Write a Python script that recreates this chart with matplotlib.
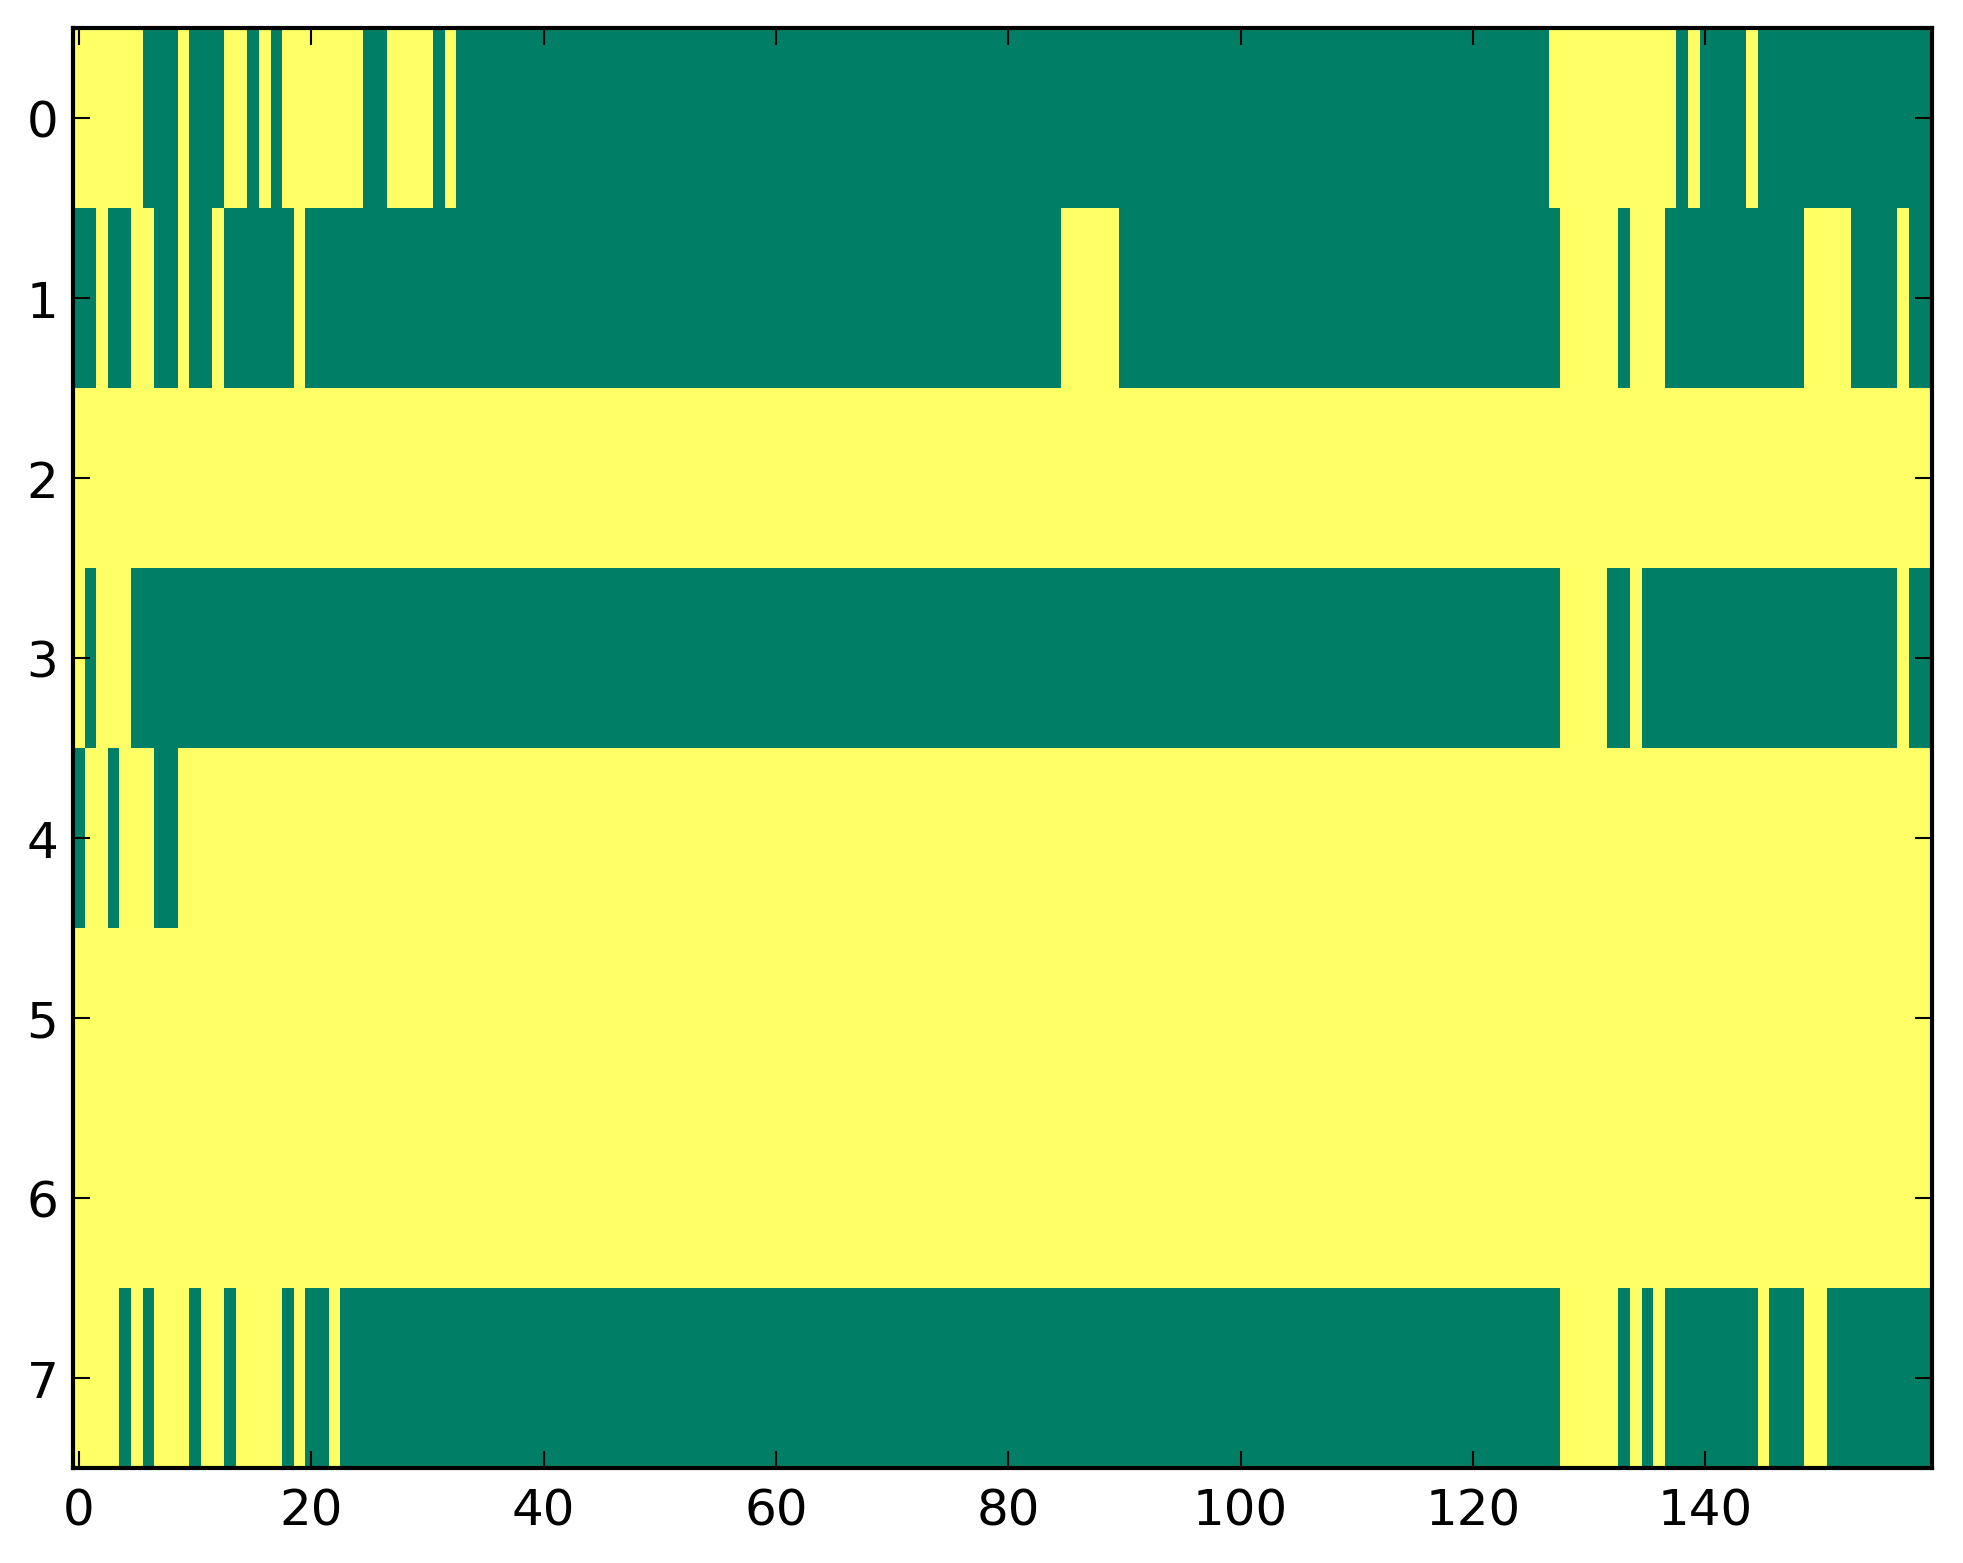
import numpy as np
import matplotlib
matplotlib.use("Agg")
import matplotlib.pyplot as plt

# Run lengths per row (alternating values, starting with the given first value)
# 1 = yellow, 0 = green (summer colormap)
row0_first, row0_runs = 1, [6, 3, 1, 3, 2, 1, 1, 1, 7, 2, 4, 1, 1, 94, 11, 1, 1, 4, 1, 15]
row1_first, row1_runs = 0, [2, 1, 2, 2, 2, 1, 2, 1, 6, 1, 65, 5, 38, 5, 1, 3, 12, 4, 4, 1, 2]
row2_first, row2_runs = 1, [160]
row3_first, row3_runs = 1, [1, 1, 3, 123, 4, 2, 1, 22, 1, 2]
row4_first, row4_runs = 0, [1, 2, 1, 3, 2, 151]
row5_first, row5_runs = 1, [160]
row6_first, row6_runs = 1, [160]
row7_first, row7_runs = 1, [4, 1, 1, 1, 3, 1, 2, 1, 4, 1, 1, 2, 1, 105, 5, 1, 1, 1, 1, 8, 1, 3, 2, 9]

x_ticks = [0, 20, 40, 60, 80, 100, 120, 140]
y_ticks = [0, 1, 2, 3, 4, 5, 6, 7]


def decode(first, runs):
    vals = []
    v = first
    for r in runs:
        vals.extend([v] * r)
        v = 1 - v
    return vals


rows = [
    decode(row0_first, row0_runs),
    decode(row1_first, row1_runs),
    decode(row2_first, row2_runs),
    decode(row3_first, row3_runs),
    decode(row4_first, row4_runs),
    decode(row5_first, row5_runs),
    decode(row6_first, row6_runs),
    decode(row7_first, row7_runs),
]
data = np.array(rows, dtype=float)

plt.rcParams['font.family'] = ['DejaVu Sans']
fig = plt.figure(figsize=(1963 / 300, 1564 / 300), dpi=300, facecolor='white')
ax = fig.add_axes([73 / 1963, 95 / 1564, 1859 / 1963, 1440 / 1564])
ax.imshow(data, cmap='summer', aspect='auto', interpolation='nearest', vmin=0, vmax=1)
ax.set_xlim(-0.5, 159.5)
ax.set_ylim(7.5, -0.5)
ax.set_xticks(x_ticks)
ax.set_yticks(y_ticks)
ax.tick_params(direction='in', length=4, width=0.5, top=True, right=True,
               labelsize=12, color='black')
ax.tick_params(axis='x', pad=4.5)
ax.tick_params(axis='y', pad=3.5)
for s in ax.spines.values():
    s.set_linewidth(1.0)
fig.savefig('out.png', dpi=300, facecolor='white')
